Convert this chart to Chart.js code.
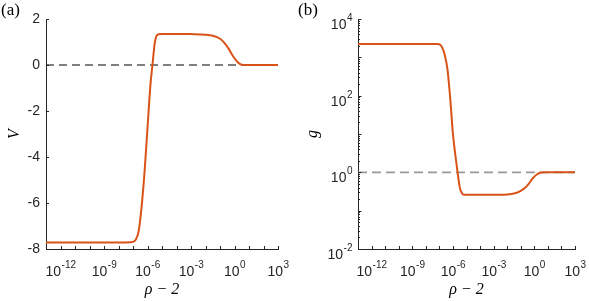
<!DOCTYPE html>
<html>
<head>
<meta charset="utf-8">
<script src="https://cdn.jsdelivr.net/npm/chart.js@4.4.0/dist/chart.umd.min.js"></script>
<style>
    body { margin: 0; background: #fff; width: 589px; height: 301px; position: relative; overflow: hidden; }
    .panel { position: absolute; top: 0; height: 301px; }
    #pa { left: 0; width: 295px; }
    #pb { left: 295px; width: 294px; }
    .lbl { position: absolute; top: 0; font: 17px "Liberation Serif", "DejaVu Serif", serif; color: #000; }
</style>
</head>
<body>
<div class="panel" id="pa"><canvas id="chartA" width="295" height="301" style="width:295px;height:301px"></canvas></div>
<div class="panel" id="pb"><canvas id="chartB" width="294" height="301" style="width:294px;height:301px"></canvas></div>
<div class="lbl" style="left:1px">(a)</div>
<div class="lbl" style="left:298px">(b)</div>
<script>
// valores
const rho = [1e-13, 1e-10, 1e-8, 6.3e-8, 1e-7, 1.6e-7, 2.5e-7, 4e-7, 6.3e-7, 1e-6,
             1.6e-6, 2.2e-6, 3.2e-6, 4.5e-6, 6.3e-6, 1e-5, 1e-4, 1e-3, 1e-2, 3.2e-2,
             0.1, 0.2, 0.4, 0.8, 1.6, 3.2, 10, 100, 1000];
const V = [-7.72, -7.72, -7.72, -7.71, -7.69, -7.58, -7.2, -6.1, -4.63, -2.74,
           -0.85, 0, 0.97, 1.30, 1.34, 1.35, 1.35, 1.345, 1.32, 1.27,
           1.14, 0.96, 0.70, 0.38, 0.13, 0.01, 0, 0, 0];
const g = [2240, 2240, 2240, 2230, 2190, 1820, 1150, 470, 85, 10,
           2.4, 1.0, 0.40, 0.29, 0.26, 0.26, 0.26, 0.26, 0.265, 0.28,
           0.33, 0.39, 0.51, 0.71, 0.89, 0.99, 1, 1, 1];

const xRange = [1e-13, 1e3];
const xTickExps = [-13, -12, -11, -10, -9, -8, -7, -6, -5, -4, -3, -2, -1, 0, 1, 2, 3];
const xLabelExps = [-12, -9, -6, -3, 0, 3];
const vTicks = [-8, -6, -4, -2, 0, 2];
const gLabelExps = [-2, 0, 2, 4];

const lineColor = '#D95319';
const axisColor = '#262626';
const sansFont = '"Liberation Sans", Arial, sans-serif';
const serifFont = '"Liberation Serif", "DejaVu Serif", serif';

function drawPow(ctx, x, baseY, exp, align) {
    ctx.font = '14px ' + sansFont;
    const wb = ctx.measureText('10').width;
    ctx.font = '10px ' + sansFont;
    const es = String(exp);
    const ws = ctx.measureText(es).width;
    const x0 = align === 'center' ? x - (wb + ws) / 2 : x - wb - ws;
    ctx.fillStyle = axisColor;
    ctx.textAlign = 'left';
    ctx.textBaseline = 'alphabetic';
    ctx.font = '14px ' + sansFont;
    ctx.fillText('10', x0, baseY);
    ctx.font = '10px ' + sansFont;
    ctx.fillText(es, x0 + wb + 0.5, baseY - 8);
}

// marcas hacia dentro y etiquetas con exponente
const axisDeco = {
    id: 'axisDeco',
    afterDraw(chart, args, opts) {
        const ctx = chart.ctx;
        const area = chart.chartArea;
        const xs = chart.scales.x, ys = chart.scales.y;
        ctx.save();
        ctx.strokeStyle = axisColor;
        ctx.lineWidth = 1;
        ctx.beginPath();
        xTickExps.forEach(e => {
            const px = Math.round(xs.getPixelForValue(Math.pow(10, e))) + 0.5;
            ctx.moveTo(px, area.bottom);
            ctx.lineTo(px, area.bottom - 3);
        });
        if (opts.logY) {
            for (let e = -2; e <= 4; e++) {
                for (let m = 1; m <= 9; m++) {
                    if (e === 4 && m > 1) break;
                    const py = Math.round(ys.getPixelForValue(m * Math.pow(10, e))) + 0.5;
                    const len = m === 1 ? 3.5 : 2;
                    ctx.moveTo(area.left, py);
                    ctx.lineTo(area.left + len, py);
                }
            }
        } else {
            vTicks.forEach(v => {
                const py = Math.round(ys.getPixelForValue(v)) + 0.5;
                ctx.moveTo(area.left, py);
                ctx.lineTo(area.left + 3, py);
            });
        }
        ctx.stroke();
        xLabelExps.forEach(e => drawPow(ctx, xs.getPixelForValue(Math.pow(10, e)), area.bottom + 27, e, 'center'));
        if (opts.logY) {
            gLabelExps.forEach(e => drawPow(ctx, area.left - 6, ys.getPixelForValue(Math.pow(10, e)) + 10, e, 'right'));
        }
        ctx.restore();
    }
};

function toPoints(ys) {
    return rho.map((x, i) => ({x: x, y: ys[i]}));
}

function xScale() {
    return {
        type: 'logarithmic',
        min: xRange[0],
        max: xRange[1],
        grid: {display: false, drawTicks: false},
        border: {color: axisColor},
        ticks: {display: false},
        title: {
            display: true,
            text: 'ρ − 2',
            color: '#000',
            font: {family: serifFont, size: 16, style: 'italic'},
            padding: {top: 0, bottom: 2}
        },
        afterFit(s) { s.height = 52; }
    };
}

const curveStyle = {
    borderColor: lineColor,
    borderWidth: 2,
    pointRadius: 0,
    fill: false,
    cubicInterpolationMode: 'monotone'
};

new Chart(document.getElementById('chartA').getContext('2d'), {
    type: 'line',
    data: {
        datasets: [
            Object.assign({label: 'V', data: toPoints(V)}, curveStyle),
            {
                label: 'cero',
                data: [{x: xRange[0], y: 0}, {x: xRange[1], y: 0}],
                borderColor: '#000',
                borderWidth: 1.2,
                borderDash: [8, 5],
                pointRadius: 0
            }
        ]
    },
    options: {
        responsive: false,
        animation: false,
        layout: {padding: {top: 19, right: 17, left: 0, bottom: 0}},
        plugins: {legend: {display: false}, tooltip: {enabled: false}, axisDeco: {logY: false}},
        scales: {
            x: xScale(),
            y: {
                min: -8,
                max: 2,
                afterBuildTicks(s) { s.ticks = vTicks.map(v => ({value: v})); },
                ticks: {padding: 6, color: axisColor, font: {family: sansFont, size: 14}},
                grid: {display: false, drawTicks: false},
                border: {color: axisColor},
                title: {
                    display: true,
                    text: 'V',
                    color: '#000',
                    font: {family: serifFont, size: 16, style: 'italic'},
                    padding: {top: 5, bottom: 0}
                },
                afterFit(s) { s.width = 46; }
            }
        }
    },
    plugins: [axisDeco]
});

new Chart(document.getElementById('chartB').getContext('2d'), {
    type: 'line',
    data: {
        datasets: [
            Object.assign({label: 'g', data: toPoints(g)}, curveStyle),
            {
                label: 'uno',
                data: [{x: xRange[0], y: 1}, {x: xRange[1], y: 1}],
                borderColor: '#999999',
                borderWidth: 1.8,
                borderDash: [9, 5],
                pointRadius: 0
            }
        ]
    },
    options: {
        responsive: false,
        animation: false,
        layout: {padding: {top: 19, right: 14, left: 0, bottom: 0}},
        plugins: {legend: {display: false}, tooltip: {enabled: false}, axisDeco: {logY: true}},
        scales: {
            x: xScale(),
            y: {
                type: 'logarithmic',
                min: 1e-2,
                max: 1e4,
                ticks: {display: false},
                grid: {display: false, drawTicks: false},
                border: {color: axisColor},
                title: {
                    display: true,
                    text: 'g',
                    color: '#000',
                    font: {family: serifFont, size: 16, style: 'italic'},
                    padding: {top: 8, bottom: 0}
                },
                afterFit(s) { s.width = 63; }
            }
        }
    },
    plugins: [axisDeco]
});
</script>
</body>
</html>
